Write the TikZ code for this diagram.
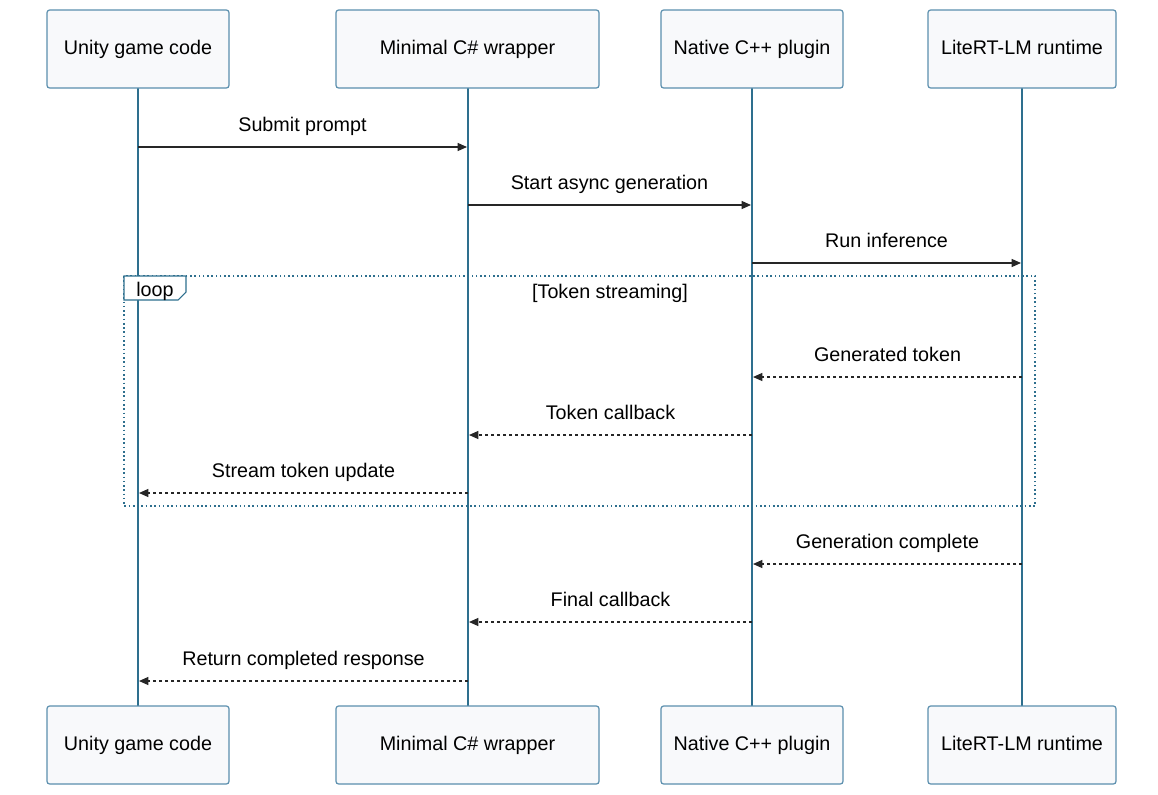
\documentclass[tikz,border=0pt]{standalone}
\usepackage{fontspec}
\setmainfont{Liberation Sans}
\usetikzlibrary{arrows.meta,calc}
\definecolor{life}{HTML}{2E6F8E}
\definecolor{boxb}{HTML}{5B8FAE}
\definecolor{boxf}{HTML}{F8F9FB}
\tikzset{
  txt/.style={font=\fontsize{14.8}{17}\selectfont},
  actor/.style={txt,draw=boxb,fill=boxf,rounded corners=2pt,line width=0.9pt,minimum height=78*0.75pt,inner sep=0pt,text height=10.5pt,text depth=3pt},
  lifeline/.style={draw=life,line width=1.5pt},
  msg/.style={draw=black!85,line width=0.9pt,-{Triangle[length=7pt,width=6pt]}},
  ret/.style={msg,dash pattern=on 2.5pt off 2pt},
  lbl/.style={txt,anchor=base,inner sep=0pt},
}
\begin{document}
\begin{tikzpicture}[x=0.75pt,y=-0.75pt]
\useasboundingbox (0,0) rectangle (1158,794);
\fill[white] (0,0) rectangle (1158,794);
\foreach \n/\x in {u/138,w/468,p/752,r/1022}{
  \draw[lifeline] (\x,88) -- (\x,706);
}
\draw[draw=life,line width=1.2pt,dotted] (124,276) rectangle (1035,506);
\draw[draw=life,line width=0.8pt,fill=white] (124,276) -- (186,276) -- (186,292) -- (178,300) -- (124,300) -- cycle;
\node[txt,anchor=base] (loop) at (155,296) {loop};
\node[txt,anchor=base] (ts) at (610,298) {[Token streaming]};
\foreach \n/\a/\b/\t in {u/47/229/Unity game code,w/336/599/Minimal C\# wrapper,p/661/843/Native C++ plugin,r/928/1116/LiteRT-LM runtime}{
  \node[actor,minimum width=(\b-\a)*0.75pt] (\n top) at ({(\a+\b)/2},49) {\t};
  \node[actor,minimum width=(\b-\a)*0.75pt] (\n bot) at ({(\a+\b)/2},745) {\t};
}
\newcommand\mymsg[5]{%
  \coordinate (s) at (#2,#4); \coordinate (e) at (#3,#4);
  \draw[#1] (s) -- (e);
  \node[lbl] at ($ (s)!0.5!(e) + (0,-16) $) {#5};}
\mymsg{msg}{138}{467}{147}{Submit prompt}
\mymsg{msg}{468}{751}{205}{Start async generation}
\mymsg{msg}{752}{1021}{263}{Run inference}
\mymsg{ret}{1022}{753}{377}{Generated token}
\mymsg{ret}{752}{469}{435}{Token callback}
\mymsg{ret}{468}{139}{493}{Stream token update}
\mymsg{ret}{1022}{753}{564}{Generation complete}
\mymsg{ret}{752}{469}{622}{Final callback}
\mymsg{ret}{468}{139}{681}{Return completed response}
\end{tikzpicture}
\end{document}
